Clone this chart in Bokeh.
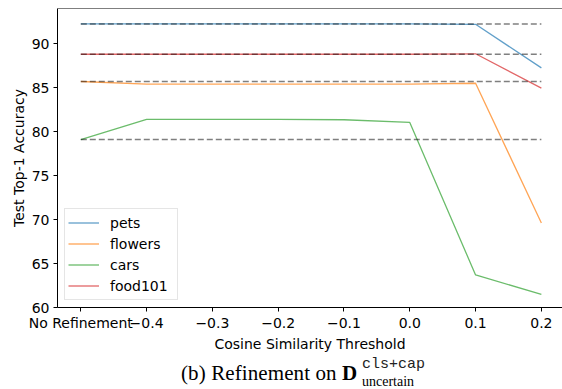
from bokeh.plotting import figure
from bokeh.models import Range1d, FixedTicker, Span, Legend, LegendItem, Div
from bokeh.layouts import column
from bokeh.embed import file_html
from bokeh.resources import INLINE

# ---------------- data ----------------
x_labels = ["No Refinement", "\u22120.4", "\u22120.3", "\u22120.2", "\u22120.1", "0.0", "0.1", "0.2"]
x_pos = [0, 1, 2, 3, 4, 5, 6, 7]

pets = [92.25, 92.25, 92.25, 92.25, 92.25, 92.25, 92.2, 87.25]
flowers = [85.7, 85.4, 85.4, 85.4, 85.4, 85.4, 85.5, 69.6]
cars = [79.1, 81.4, 81.4, 81.4, 81.35, 81.05, 63.7, 61.5]
food101 = [88.8, 88.8, 88.8, 88.8, 88.8, 88.8, 88.85, 84.95]

series_names = ["pets", "flowers", "cars", "food101"]
baselines = [92.25, 85.7, 79.1, 88.8]
y_ticks = [60, 65, 70, 75, 80, 85, 90]

colors = ["#1f77b4", "#ff7f0e", "#2ca02c", "#d62728"]

# ---------------- figure ----------------
X0, X1 = -0.354, 7.321
Y0, Y1 = 60.0, 94.0
FW, FH = 562, 354
BL, BR, BT, BB = 57, 0, 8, 44

p = figure(width=FW, height=FH, output_backend="svg", toolbar_location=None,
           x_range=Range1d(X0, X1), y_range=Range1d(Y0, Y1),
           min_border_left=BL, min_border_right=BR, min_border_top=BT, min_border_bottom=BB,
           margin=0)
p.outline_line_color = None
p.grid.visible = False
p.background_fill_color = "white"
p.border_fill_color = "white"

renderers = []
for name, vals, c in zip(series_names, [pets, flowers, cars, food101], colors):
    r = p.line(x_pos, vals, line_color=c, line_alpha=0.7, line_width=1.3)
    renderers.append(r)

for b in baselines:
    p.line([x_pos[0], x_pos[-1]], [b, b], line_color="black", line_alpha=0.5,
           line_width=1.5, line_dash="6 3")

p.add_layout(Span(location=Y1, dimension="width", line_color="black", line_width=1))

# axes
for ax in (p.xaxis[0], p.yaxis[0]):
    ax.axis_line_color = "black"
    ax.major_tick_line_color = "black"
    ax.major_tick_out = 4
    ax.major_tick_in = 0
    ax.minor_tick_line_color = None
    ax.major_label_text_font = "DejaVu Sans"
    ax.major_label_text_font_size = "14px"
    ax.major_label_text_color = "black"
    ax.axis_label_text_font = "DejaVu Sans"
    ax.axis_label_text_font_size = "14px"
    ax.axis_label_text_font_style = "normal"
    ax.axis_label_text_color = "black"

p.xaxis.ticker = FixedTicker(ticks=x_pos)
p.xaxis.major_label_overrides = {i: lab for i, lab in zip(x_pos, x_labels)}
p.xaxis.major_label_standoff = 3
p.xaxis.axis_label = "Cosine Similarity Threshold"
p.xaxis.axis_label_standoff = 2

p.yaxis.ticker = FixedTicker(ticks=y_ticks)
p.yaxis.major_label_standoff = 4
p.yaxis.axis_label = "Test Top-1 Accuracy"
p.yaxis.axis_label_standoff = 2

legend = Legend(items=[LegendItem(label=n, renderers=[r]) for n, r in zip(series_names, renderers)],
                location=(7, 7), margin=0, padding=3, spacing=0,
                glyph_width=31, glyph_height=21, label_height=21, label_width=64,
                label_standoff=11, label_text_font="DejaVu Sans", label_text_font_size="14px",
                label_text_color="black",
                border_line_color="#cccccc", border_line_width=1,
                background_fill_color="white", background_fill_alpha=0.8)
p.add_layout(legend)

# ---------------- caption ----------------
caption_html = (
    '<div style="position:relative;width:562px;height:35px;overflow:visible;color:black;">'
    '<span style="position:absolute;left:181px;top:9px;white-space:nowrap;letter-spacing:0.1px;'
    'font-family:\'Liberation Serif\';font-size:21px;line-height:21px;">(b) Refinement on</span>'
    '<span style="position:absolute;left:342px;top:9px;white-space:nowrap;'
    'font-family:\'Liberation Serif\';font-weight:bold;font-size:21px;line-height:21px;">D</span>'
    '<span style="position:absolute;left:362px;top:4px;white-space:nowrap;color:#222;'
    'font-family:\'Liberation Mono\';font-size:15px;line-height:14px;">cls+cap</span>'
    '<span style="position:absolute;left:362px;top:21px;white-space:nowrap;'
    'font-family:\'Liberation Serif\';font-size:14px;line-height:14px;">uncertain</span>'
    '</div>'
)
caption = Div(text=caption_html, width=562, height=35, margin=0)

layout = column(p, caption, spacing=0, margin=0)

open("out.html", "w").write(file_html(layout, INLINE))
